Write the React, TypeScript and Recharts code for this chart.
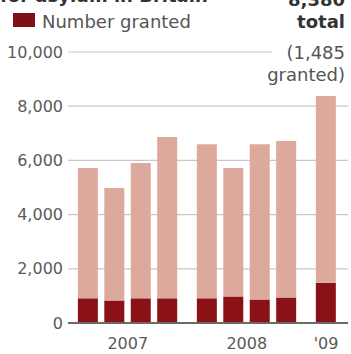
import React from "react";
import { BarChart, Bar, XAxis, YAxis, CartesianGrid } from "recharts";

// quarterly asylum applications, Britain
const years = ["2007", "2008", "'09"];
const quarterYear = [0, 0, 0, 0, 1, 1, 1, 1, 2];
const quarterNum = [0, 1, 2, 3, 0, 1, 2, 3, 0];
const totalApps = [5720, 4980, 5900, 6860, 6600, 5720, 6600, 6720, 8380];
const granted = [910, 830, 910, 910, 910, 980, 870, 940, 1485];
const yTicks = [0, 2000, 4000, 6000, 8000, 10000];

const YEAR_GAP = 0.5;
const FONT = "'DejaVu Sans', sans-serif";

const data = totalApps.map((total, i) => ({
  x: quarterYear[i] * (4 + YEAR_GAP) + quarterNum[i],
  granted: granted[i],
  rest: total - granted[i],
}));

const yearTicks = years.map((_, y) => {
  const xs = data.filter((_, i) => quarterYear[i] === y).map(d => d.x);
  return (Math.min(...xs) + Math.max(...xs)) / 2;
});

const App = () => {
  return (
    <div style={{ position: "absolute", left: 0, top: 0, width: 351, height: 354, overflow: "hidden", background: "#fff" }}>
      <BarChart
        width={351}
        height={354}
        data={data}
        margin={{ top: 52, right: 3, bottom: 0, left: 0 }}
        barSize={20}
      >
        <CartesianGrid vertical={false} stroke="#c8c8c8" strokeWidth={1.2} />
        <XAxis
          type="number"
          dataKey="x"
          domain={[-0.76, 9.83]}
          ticks={yearTicks}
          tickFormatter={(v) => years[yearTicks.indexOf(v)] ?? ""}
          tickLine={false}
          tickSize={0}
          tickMargin={15}
          height={31}
          axisLine={{ stroke: "#6a6a6a", strokeWidth: 2 }}
          tick={{ fill: "#5a5a5a", fontSize: 16, fontFamily: FONT }}
        />
        <YAxis
          type="number"
          domain={[0, 10000]}
          ticks={yTicks}
          tickFormatter={(v) => v.toLocaleString("en-US")}
          tickLine={false}
          axisLine={false}
          tickSize={0}
          tickMargin={5}
          width={68}
          tick={{ fill: "#5a5a5a", fontSize: 16, fontFamily: FONT }}
        />
        <Bar dataKey="granted" stackId="a" fill="#8a1116" isAnimationActive={false} />
        <Bar dataKey="rest" stackId="a" fill="#dca99c" isAnimationActive={false} />
      </BarChart>

      <svg width={351} height={354} style={{ position: "absolute", left: 0, top: 0, pointerEvents: "none" }}>
        <text x={0} y={2} fontFamily={FONT} fontSize={18} fontWeight="bold" fill="#333">
          for asylum in Britain
        </text>
        <rect x={13} y={13} width={22} height={14} fill="#7e1116" />
        <text x={42} y={28} fontFamily={FONT} fontSize={18} fill="#555">
          Number granted
        </text>
        <rect x={272} y={36} width={79} height={50} fill="#fff" />
        <g fontFamily={FONT} textAnchor="end">
          <text x={345} y={6} fontSize={18} fontWeight="bold" fill="#333">8,380</text>
          <text x={345} y={28} fontSize={18} fontWeight="bold" fill="#333">total</text>
          <text x={345} y={59} fontSize={18} fill="#555">(1,485</text>
          <text x={345} y={81} fontSize={18} fill="#555">granted)</text>
        </g>
      </svg>
    </div>
  );
};

export default App;
